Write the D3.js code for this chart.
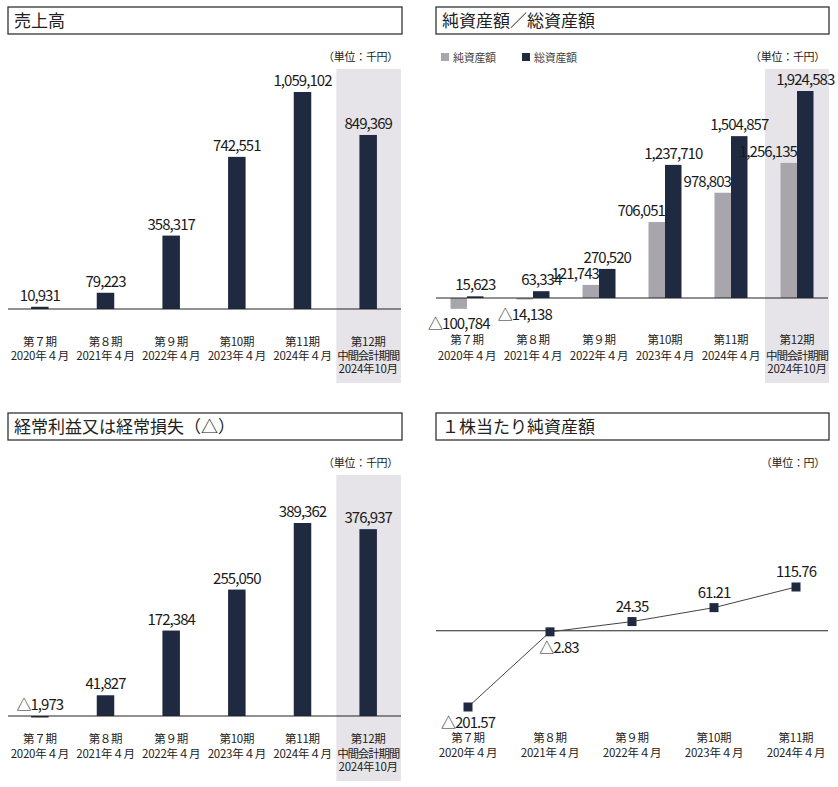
<!DOCTYPE html>
<html>
<head>
<meta charset="utf-8">
<script src="https://cdn.jsdelivr.net/npm/d3@7"></script>
<style>
  html, body { margin: 0; padding: 0; background: #fff; }
  svg { display: block; font-family: 'Noto Sans CJK JP', 'Noto Sans', sans-serif; }
  .val { font-size: 15px; letter-spacing: -0.95px; fill: #1a1a1a; }
  .cat { font-size: 11.5px; letter-spacing: -0.25px; fill: #222; }
  .cat .tight { letter-spacing: -1.2px; }
  .unit { font-size: 11px; letter-spacing: -0.3px; fill: #222; }
  .title { font-size: 17px; fill: #222; }
</style>
</head>
<body>
<div id="chart"></div>
<script>
const periods = ['第７期', '第８期', '第９期', '第10期', '第11期', '第12期'];
const periodDates = ['2020年４月', '2021年４月', '2022年４月', '2023年４月', '2024年４月', '2024年10月'];
const interimNote = '中間会計期間';

const sales = [10931, 79223, 358317, 742551, 1059102, 849369];
const netAssets = [-100784, -14138, 121743, 706051, 978803, 1256135];
const totalAssets = [15623, 63334, 270520, 1237710, 1504857, 1924583];
const ordinaryIncome = [-1973, 41827, 172384, 255050, 389362, 376937];
const bps = [-201.57, -2.83, 24.35, 61.21, 115.76];

const navy = '#1f2940',
      grey = '#a8a5ad',
      shade = '#e6e4e8';

const svg = d3.select('#chart')
  .append('svg')
  .attr('width', 838)
  .attr('height', 787);

const fmtInt = v => v < 0 ? '△' + d3.format(',')(-v) : d3.format(',')(v);
const fmtDec = v => v < 0 ? '△' + d3.format('.2f')(-v) : d3.format('.2f')(v);

function panelFrame(x0, x1, y0, title, unit) {
  svg.append('rect')
     .attr('x', x0).attr('y', y0)
     .attr('width', x1 - x0).attr('height', 27)
     .attr('fill', 'none')
     .attr('stroke', '#333')
     .attr('stroke-width', 1.3);
  svg.append('text')
     .attr('class', 'title')
     .attr('x', x0 + 6).attr('y', y0 + 20)
     .text(title);
  svg.append('text')
     .attr('class', 'unit')
     .attr('x', x1 - 4).attr('y', y0 + 54)
     .attr('text-anchor', 'end')
     .text(unit);
}

function catLabels(x, cats, dates, lineY) {
  const g = svg.append('g');
  cats.forEach((c, i) => {
    const t = g.append('text')
      .attr('class', 'cat')
      .attr('text-anchor', 'middle');
    t.append('tspan').attr('x', x(c)).attr('y', lineY[0]).text(c);
    if (i === 5) {
      t.append('tspan').attr('class', 'tight').attr('x', x(c)).attr('y', lineY[1]).text(interimNote);
      t.append('tspan').attr('x', x(c)).attr('y', lineY[2]).text(dates[i]);
    } else {
      t.append('tspan').attr('x', x(c)).attr('y', lineY[1]).text(dates[i]);
    }
  });
}

// ---- single bar panels ----
function singleBars(values, opt) {
  const x = d3.scaleBand().domain(periods).range([opt.x0, opt.x1]);
  const y = d3.scaleLinear().domain([0, d3.max(values)]).range([opt.base, opt.top]);

  panelFrame(opt.x0 + 1, opt.x1 + 1, opt.titleY, opt.title, '（単位：千円）');

  svg.append('rect')
     .attr('x', x(periods[5]) + 1)
     .attr('y', opt.shadeTop)
     .attr('width', x.bandwidth() - 1)
     .attr('height', opt.shadeBottom - opt.shadeTop)
     .attr('fill', shade);

  const bw = 17.5;
  svg.append('g').selectAll('rect')
     .data(values)
     .join('rect')
     .attr('x', (d, i) => x(periods[i]) + x.bandwidth() / 2 - bw / 2)
     .attr('y', d => Math.min(y(d), y(0)))
     .attr('width', bw)
     .attr('height', d => Math.max(1.5, Math.abs(y(d) - y(0))))
     .attr('fill', navy);

  svg.append('line')
     .attr('x1', opt.x0 + 1).attr('x2', opt.x1)
     .attr('y1', y(0)).attr('y2', y(0))
     .attr('stroke', '#222');

  svg.append('g').selectAll('text')
     .data(values)
     .join('text')
     .attr('class', 'val')
     .attr('text-anchor', 'middle')
     .attr('x', (d, i) => x(periods[i]) + x.bandwidth() / 2)
     .attr('y', d => Math.min(y(d), y(0)) - 6)
     .text(fmtInt);

  const cx = c => x(c) + x.bandwidth() / 2;
  catLabels(cx, periods, periodDates, opt.catY);
}

singleBars(sales, {
  x0: 7, x1: 401, base: 309, top: 92, titleY: 7,
  shadeTop: 69, shadeBottom: 383,
  title: '売上高', catY: [346, 360, 373]
});

singleBars(ordinaryIncome, {
  x0: 7, x1: 401, base: 716, top: 523, titleY: 413,
  shadeTop: 475, shadeBottom: 781,
  title: '経常利益又は経常損失（△）', catY: [743, 758, 771]
});

// ---- net / total assets panel ----
(function() {
  const x0 = 434, x1 = 830;
  const x = d3.scaleBand().domain(periods).range([x0, x1]);
  const y = d3.scaleLinear().domain([0, d3.max(totalAssets)]).range([298, 91]);
  const cx = c => x(c) + x.bandwidth() / 2;
  const bw = 16.5;

  panelFrame(436, 829, 7, '純資産額／総資産額', '（単位：千円）');

  svg.append('rect')
     .attr('x', x(periods[5]) + 1)
     .attr('y', 69)
     .attr('width', x.bandwidth() - 2)
     .attr('height', 383 - 69)
     .attr('fill', shade);

  const legend = [
    { name: '純資産額', color: grey, x: 441 },
    { name: '総資産額', color: navy, x: 522 }
  ];
  const lg = svg.append('g').selectAll('g')
    .data(legend)
    .join('g')
    .attr('transform', d => `translate(${d.x}, 53)`);
  lg.append('rect').attr('width', 8).attr('height', 8).attr('fill', d => d.color);
  lg.append('text')
    .attr('class', 'unit')
    .attr('x', 12).attr('y', 8.5)
    .style('fill', '#444')
    .text(d => d.name);

  svg.append('g').selectAll('rect')
     .data(netAssets)
     .join('rect')
     .attr('x', (d, i) => cx(periods[i]) - bw)
     .attr('y', d => Math.min(y(d), y(0)))
     .attr('width', bw)
     .attr('height', d => Math.abs(y(d) - y(0)))
     .attr('fill', grey);

  svg.append('g').selectAll('rect')
     .data(totalAssets)
     .join('rect')
     .attr('x', (d, i) => cx(periods[i]))
     .attr('y', d => y(d))
     .attr('width', bw)
     .attr('height', d => y(0) - y(d))
     .attr('fill', navy);

  svg.append('line')
     .attr('x1', 436).attr('x2', 828)
     .attr('y1', y(0)).attr('y2', y(0))
     .attr('stroke', '#222');

  svg.append('g').selectAll('text')
     .data(netAssets)
     .join('text')
     .attr('class', 'val')
     .attr('text-anchor', d => d < 0 ? 'middle' : 'end')
     .attr('x', (d, i) => d < 0 ? cx(periods[i]) - bw / 2 : cx(periods[i]))
     .attr('y', d => d < 0 ? y(d) + 14 + (y(0) - y(d) < 5 ? 6 : 0) : y(d) - 6)
     .text(fmtInt);

  svg.append('g').selectAll('text')
     .data(totalAssets)
     .join('text')
     .attr('class', 'val')
     .attr('text-anchor', 'middle')
     .attr('x', (d, i) => cx(periods[i]) + bw / 2)
     .attr('y', d => y(d) - 6)
     .text(fmtInt);

  catLabels(cx, periods, periodDates, [344, 360, 373]);
})();

// ---- book value per share ----
(function() {
  const cats = periods.slice(0, 5);
  const x = d3.scalePoint().domain(cats).range([468, 796]);
  const y = d3.scaleLinear().domain([d3.min(bps), d3.max(bps)]).range([707, 587]);

  panelFrame(436, 829, 413, '１株当たり純資産額', '（単位：円）');

  svg.append('line')
     .attr('x1', 436).attr('x2', 828)
     .attr('y1', y(0)).attr('y2', y(0))
     .attr('stroke', '#222');

  svg.append('path')
     .datum(bps)
     .attr('fill', 'none')
     .attr('stroke', '#444')
     .attr('stroke-width', 1)
     .attr('d', d3.line().x((d, i) => x(cats[i])).y(d => y(d)));

  svg.append('g').selectAll('rect')
     .data(bps)
     .join('rect')
     .attr('x', (d, i) => x(cats[i]) - 4.5)
     .attr('y', d => y(d) - 4.5)
     .attr('width', 9).attr('height', 9)
     .attr('fill', navy);

  svg.append('g').selectAll('text')
     .data(bps)
     .join('text')
     .attr('class', 'val')
     .attr('text-anchor', 'middle')
     .attr('x', (d, i) => x(cats[i]) + (i === 1 ? 9 : 0))
     .attr('y', d => d < 0 ? y(d) + 21 : y(d) - 10)
     .text(fmtDec);

  catLabels(x, cats, periodDates, [742, 757]);
})();
</script>
</body>
</html>
